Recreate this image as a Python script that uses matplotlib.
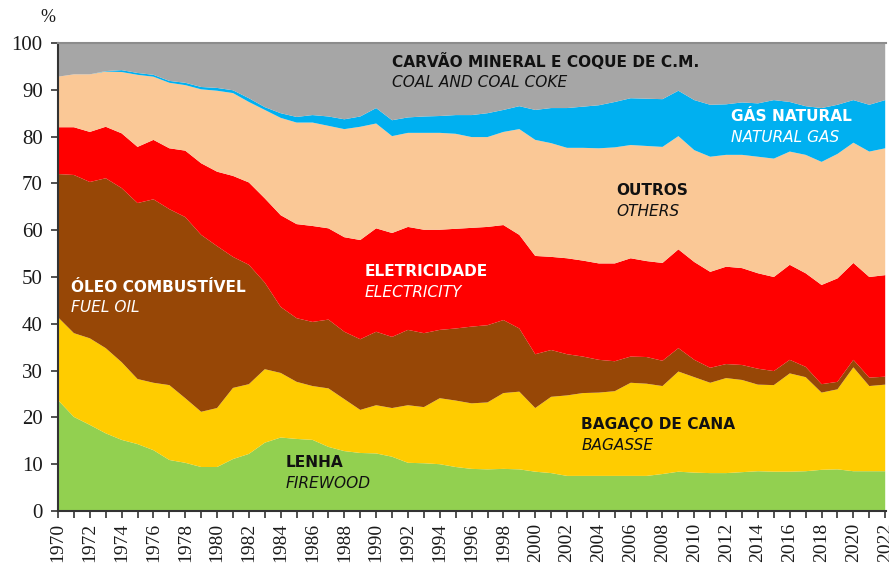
import numpy as np
import matplotlib
matplotlib.use("Agg")
import matplotlib.pyplot as plt

# Data (% share of final energy consumption)
years = list(range(1970, 2023))

lenha = [23.7, 20.1, 18.4, 16.6, 15.2, 14.3, 13.0, 10.9, 10.3, 9.4,
         9.4, 11.1, 12.2, 14.6, 15.7, 15.4, 15.2, 13.7, 12.8, 12.4,
         12.3, 11.6, 10.3, 10.2, 10.0, 9.4, 9.0, 8.9, 9.0, 8.9,
         8.4, 8.1, 7.5, 7.5, 7.5, 7.5, 7.5, 7.5, 7.9, 8.4,
         8.2, 8.1, 8.1, 8.3, 8.5, 8.4, 8.4, 8.5, 8.8, 8.9,
         8.5, 8.5, 8.5]
bagaco = [17.7, 17.9, 18.5, 18.2, 16.6, 13.9, 14.4, 16.0, 13.8, 11.8,
          12.6, 15.2, 14.9, 15.7, 13.8, 12.2, 11.5, 12.5, 11.1, 9.2,
          10.3, 10.4, 12.3, 12.0, 14.1, 14.2, 14.0, 14.3, 16.2, 16.6,
          13.6, 16.3, 17.2, 17.7, 17.8, 18.1, 19.9, 19.7, 18.8, 21.4,
          20.4, 19.3, 20.3, 19.7, 18.5, 18.5, 21.0, 20.1, 16.5, 17.1,
          22.2, 18.2, 18.5]
oleo = [30.6, 33.8, 33.4, 36.3, 37.2, 37.6, 39.2, 37.6, 38.7, 37.8,
        34.6, 28.0, 25.5, 18.5, 14.1, 13.6, 13.7, 14.7, 14.4, 15.1,
        15.7, 15.2, 16.1, 15.8, 14.6, 15.4, 16.4, 16.5, 15.6, 13.5,
        11.5, 10.0, 8.8, 7.8, 7.0, 6.4, 5.6, 5.7, 5.4, 5.0,
        3.7, 3.2, 3.0, 3.2, 3.4, 3.0, 2.9, 2.2, 1.8, 1.6,
        1.6, 1.8, 1.7]
eletricidade = [10.0, 10.2, 10.7, 11.0, 11.7, 12.0, 12.7, 13.0, 14.2, 15.3,
                15.9, 17.3, 17.6, 18.0, 19.6, 20.1, 20.5, 19.5, 20.2, 21.2,
                22.1, 22.2, 22.0, 22.1, 21.4, 21.3, 21.1, 21.0, 20.3, 20.0,
                21.0, 19.9, 20.5, 20.5, 20.6, 20.9, 21.0, 20.5, 20.9, 21.1,
                20.9, 20.5, 20.8, 20.7, 20.4, 20.1, 20.3, 20.0, 21.2, 22.1,
                20.7, 21.5, 21.7]
outros = [10.8, 11.3, 12.3, 11.8, 13.1, 15.4, 13.5, 14.0, 14.0, 15.8,
          17.3, 17.7, 17.2, 18.9, 20.8, 21.7, 22.1, 21.9, 23.1, 24.2,
          22.4, 20.7, 20.1, 20.7, 20.7, 20.3, 19.4, 19.2, 19.9, 22.6,
          24.8, 24.3, 23.6, 24.1, 24.6, 24.8, 24.2, 24.6, 24.8, 24.2,
          23.9, 24.6, 23.9, 24.2, 24.9, 25.3, 24.2, 25.3, 26.3, 26.6,
          25.7, 26.8, 27.1]
gas = [0.0, 0.0, 0.0, 0.1, 0.4, 0.4, 0.4, 0.4, 0.5, 0.5,
       0.6, 0.6, 0.8, 0.6, 1.0, 1.2, 1.6, 2.0, 2.1, 2.2,
       3.3, 3.4, 3.3, 3.5, 3.6, 4.0, 4.7, 5.1, 4.7, 4.9,
       6.4, 7.5, 8.5, 8.8, 9.2, 9.7, 10.0, 10.1, 10.2, 9.7,
       10.7, 11.1, 10.8, 11.2, 11.4, 12.5, 10.6, 10.4, 11.5, 10.5,
       9.1, 10.0, 10.3]
carvao = [7.2, 6.7, 6.7, 6.0, 5.8, 6.4, 6.8, 8.1, 8.5, 9.4,
          9.6, 10.1, 11.8, 13.7, 15.0, 15.8, 15.4, 15.7, 16.3, 15.7,
          13.9, 16.5, 15.9, 15.7, 15.6, 15.4, 15.4, 15.0, 14.3, 13.5,
          14.3, 13.9, 13.9, 13.6, 13.3, 12.6, 11.8, 11.9, 12.0, 10.2,
          12.2, 13.2, 13.1, 12.7, 12.9, 12.2, 12.6, 13.5, 13.9, 13.2,
          12.2, 13.2, 12.2]

colors = ['#92D050', '#FFCC00', '#974706', '#FF0000', '#FAC896', '#00B0F0', '#A6A6A6']

fig = plt.figure(figsize=(8.89, 5.68), dpi=100)
ax = fig.add_axes([58 / 889, 57 / 568, 828 / 889, 468 / 568])

ax.stackplot(years, lenha, bagaco, oleo, eletricidade, outros, gas, carvao,
             colors=colors, linewidth=0)

ax.set_xlim(1970, 2022.05)
ax.set_ylim(0, 100)

# ticks
ax.set_yticks(range(0, 101, 10))
ax.set_xticks(years, minor=True)
ax.set_xticks(range(1970, 2023, 2))
ax.set_xticklabels([str(y) for y in range(1970, 2023, 2)], rotation=90)
ax.tick_params(axis='both', which='both', direction='out', length=5, width=1.2,
               colors='#333333')
ax.tick_params(axis='x', labelsize=14, labelcolor='#1a1a1a')
ax.tick_params(axis='y', labelsize=15, labelcolor='#1a1a1a', pad=6)
for lbl in ax.get_xticklabels() + ax.get_yticklabels():
    lbl.set_family('Liberation Serif')

for side in ['left', 'bottom']:
    ax.spines[side].set_color('#333333')
    ax.spines[side].set_linewidth(1.5)
ax.spines['top'].set_color('#8c8c8c')
ax.spines['top'].set_linewidth(1.5)
ax.spines['right'].set_visible(False)

fig.text(48 / 889, 1 - 18 / 568, '%', fontsize=13, family='Liberation Serif',
         color='#1a1a1a', ha='center', va='center')

# labels
def label(x, y, pt, en, color):
    ax.text(x, y, pt, fontsize=11.1, fontweight='bold', color=color,
            family='DejaVu Sans', va='center', ha='left')
    ax.text(x, y - 4.4, en, fontsize=11.1, style='italic', color=color,
            family='DejaVu Sans', va='center', ha='left')

label(1991.0, 96.0, 'CARVÃO MINERAL E COQUE DE C.M.', 'COAL AND COAL COKE', '#111111')
label(2012.3, 84.3, 'GÁS NATURAL', 'NATURAL GAS', 'white')
label(2005.1, 68.4, 'OUTROS', 'OTHERS', '#111111')
label(1989.3, 51.1, 'ELETRICIDADE', 'ELECTRICITY', 'white')
label(1970.8, 47.8, 'ÓLEO COMBUSTÍVEL', 'FUEL OIL', 'white')
label(2002.9, 18.4, 'BAGAÇO DE CANA', 'BAGASSE', '#111111')
label(1984.3, 10.3, 'LENHA', 'FIREWOOD', '#111111')

fig.savefig('out.png', dpi=100)
